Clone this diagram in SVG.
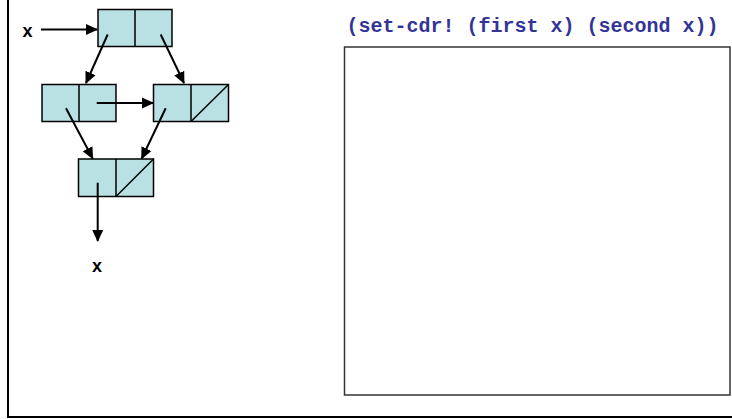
<svg xmlns="http://www.w3.org/2000/svg" width="732" height="419" viewBox="0 0 732 419">
  <style>
    .cell { fill: #b9e0e2; stroke: #000; stroke-width: 1.5; }
    .div { stroke: #000; stroke-width: 1.5; fill: none; }
    .ptr { stroke: #000; stroke-width: 2; fill: none; marker-end: url(#head); }
    .lbl { font-family: "Liberation Sans", Arial, sans-serif; font-weight: bold; font-size: 18px; fill: #000; }
    .code { font-family: "Liberation Mono", "Courier New", monospace; font-weight: bold; font-size: 20px; fill: #333399; }
  </style>
  <defs>
    <marker id="head" markerWidth="12" markerHeight="12" refX="11" refY="6" orient="auto" markerUnits="userSpaceOnUse">
      <path d="M0,0.5 L12,6 L0,11.5 Z" fill="#000"/>
    </marker>
  </defs>

  <!-- frame -->
  <line x1="8" y1="0" x2="8" y2="418" stroke="#000" stroke-width="2"/>
  <line x1="7" y1="417" x2="732" y2="417" stroke="#000" stroke-width="2"/>

  <!-- pair 1: top -->
  <g id="pair-top">
    <rect class="cell" x="98" y="9.5" width="74" height="37"/>
    <line class="div" x1="135" y1="9.5" x2="135" y2="46.5"/>
  </g>

  <!-- pair 2: middle left -->
  <g id="pair-mid-left">
    <rect class="cell" x="42" y="84.5" width="74" height="37"/>
    <line class="div" x1="79" y1="84.5" x2="79" y2="121.5"/>
  </g>

  <!-- pair 3: middle right (cdr empty) -->
  <g id="pair-mid-right">
    <rect class="cell" x="153.5" y="84.5" width="75" height="37"/>
    <line class="div" x1="191" y1="84.5" x2="191" y2="121.5"/>
    <line class="div" x1="191" y1="121.5" x2="228.5" y2="84.5"/>
  </g>

  <!-- pair 4: bottom (cdr empty) -->
  <g id="pair-bottom">
    <rect class="cell" x="78.5" y="159" width="75" height="37.5"/>
    <line class="div" x1="116" y1="159" x2="116" y2="196.5"/>
    <line class="div" x1="116" y1="196.5" x2="153.5" y2="159"/>
  </g>

  <!-- labels -->
  <g id="label-x-top">
    <text class="lbl" x="22.5" y="37.3">x</text>
  </g>
  <g id="label-x-bottom">
    <text class="lbl" x="92" y="271.7">x</text>
  </g>

  <!-- pointers -->
  <g id="connectors">
    <line class="ptr" x1="41" y1="29.5" x2="97" y2="29.5"/>
    <line class="ptr" x1="107.7" y1="34.5" x2="86" y2="83"/>
    <line class="ptr" x1="160.7" y1="34.5" x2="184" y2="83"/>
    <line class="ptr" x1="96.7" y1="103" x2="153" y2="103"/>
    <line class="ptr" x1="66" y1="108.3" x2="92.7" y2="158.5"/>
    <line class="ptr" x1="165.7" y1="108.3" x2="141.7" y2="158.5"/>
    <line class="ptr" x1="97.7" y1="182.7" x2="97.7" y2="241"/>
  </g>

  <!-- expression and empty result box -->
  <g id="expression">
    <text class="code" x="346.5" y="31.7">(set-cdr! (first x) (second x))</text>
  </g>
  <g id="result-box">
    <rect x="344.5" y="47" width="385.5" height="348" fill="#fff" stroke="#333" stroke-width="1.5"/>
  </g>
</svg>
